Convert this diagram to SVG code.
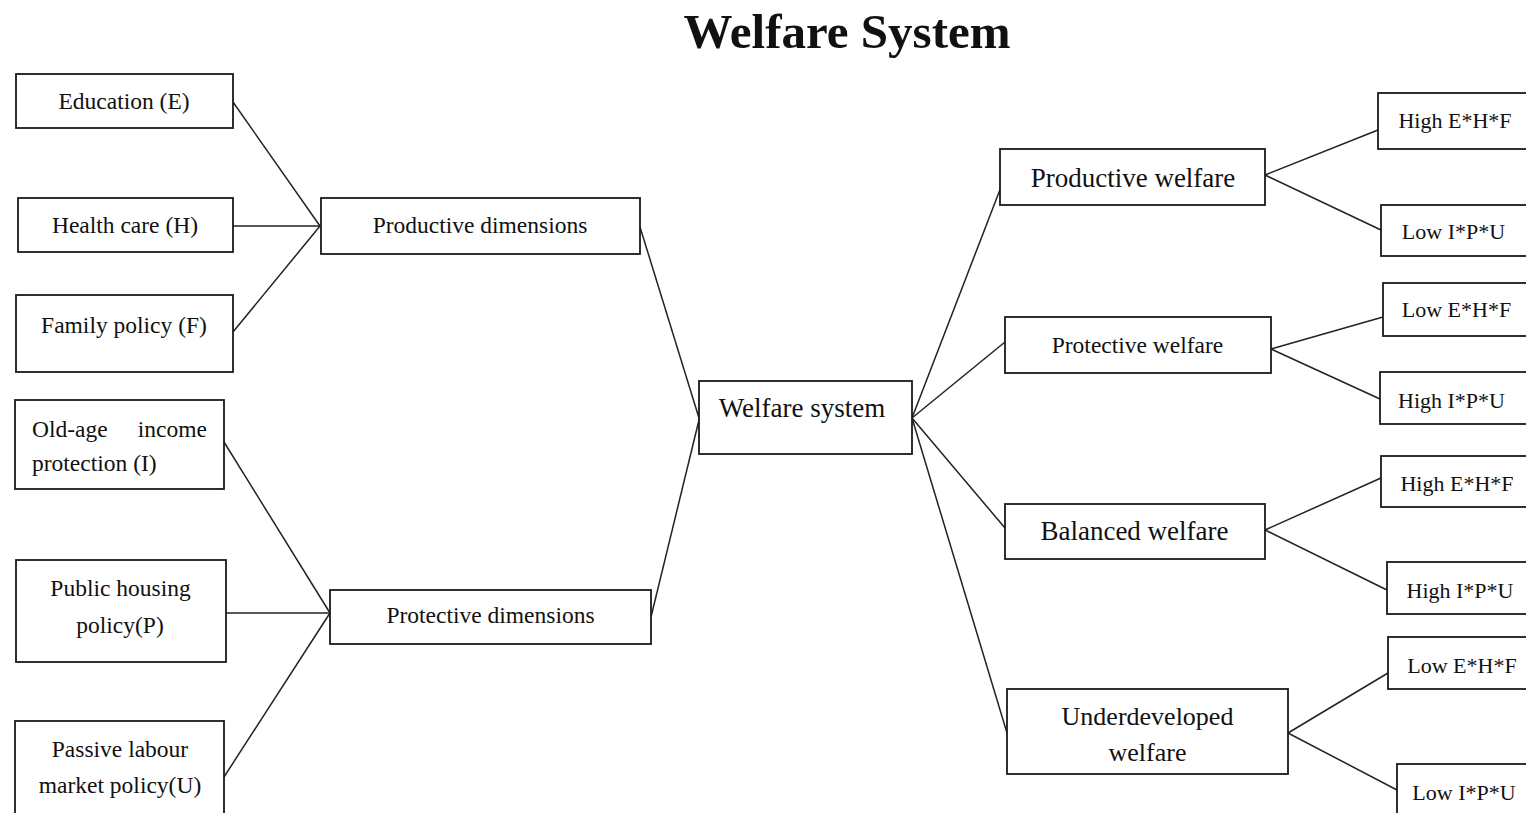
<svg xmlns="http://www.w3.org/2000/svg" width="1526" height="813" viewBox="0 0 1526 813">
<style>
.box{fill:#fff;stroke:#1a1a1a;stroke-width:1.8}
.ln{stroke:#222;stroke-width:1.5;fill:none}
text{font-family:"Liberation Serif","Times New Roman",serif;fill:#111;text-anchor:middle}
.s24{font-size:23.5px}
.s27{font-size:27px}
.s26{font-size:26px}
.s22{font-size:22px}
.title{font-size:49px;font-weight:bold}
</style>
<rect width="1526" height="813" fill="#fff"/>
<text class="title" x="847" y="48">Welfare System</text>
<g id="connectors">
<line class="ln" x1="233" y1="102" x2="320" y2="226"/>
<line class="ln" x1="233" y1="226" x2="320" y2="226"/>
<line class="ln" x1="233" y1="332" x2="320" y2="226"/>
<line class="ln" x1="224" y1="442" x2="330" y2="613"/>
<line class="ln" x1="226" y1="613" x2="330" y2="613"/>
<line class="ln" x1="224" y1="777" x2="330" y2="613"/>
<line class="ln" x1="640" y1="227" x2="699" y2="418"/>
<line class="ln" x1="651" y1="617" x2="699" y2="420"/>
<line class="ln" x1="912" y1="418" x2="1001" y2="187"/>
<line class="ln" x1="912" y1="418" x2="1005" y2="342"/>
<line class="ln" x1="912" y1="418" x2="1005" y2="528"/>
<line class="ln" x1="912" y1="418" x2="1007" y2="733"/>
<line class="ln" x1="1265" y1="175" x2="1378" y2="130"/>
<line class="ln" x1="1265" y1="175" x2="1381" y2="230"/>
<line class="ln" x1="1271" y1="349" x2="1383" y2="317"/>
<line class="ln" x1="1271" y1="349" x2="1380" y2="399"/>
<line class="ln" x1="1265" y1="530" x2="1381" y2="478"/>
<line class="ln" x1="1265" y1="530" x2="1387" y2="590"/>
<line class="ln" x1="1288" y1="733" x2="1388" y2="673"/>
<line class="ln" x1="1288" y1="733" x2="1397" y2="790"/>
</g>
<g id="education"><rect class="box" x="16" y="74" width="217" height="54"/><text class="s24" x="124" y="109">Education (E)</text></g>
<g id="health"><rect class="box" x="18" y="198" width="215" height="54"/><text class="s24" x="125" y="233">Health care (H)</text></g>
<g id="family"><rect class="box" x="16" y="295" width="217" height="77"/><text class="s24" x="124" y="333">Family policy (F)</text></g>
<g id="oldage"><rect class="box" x="15" y="400" width="209" height="89"/><text class="s24" x="32" y="437" style="text-anchor:start">Old-age</text><text class="s24" x="207" y="437" style="text-anchor:end">income</text><text class="s24" x="32" y="471" style="text-anchor:start">protection (I)</text></g>
<g id="housing"><rect class="box" x="16" y="560" width="210" height="102"/><text class="s24" x="120.5" y="596">Public housing</text><text class="s24" x="120" y="633">policy(P)</text></g>
<g id="labour"><rect class="box" x="15" y="721" width="209" height="100"/><text class="s24" x="120" y="757">Passive labour</text><text class="s24" x="120" y="793">market policy(U)</text></g>
<g id="productive-dimensions"><rect class="box" x="321" y="198" width="319" height="56"/><text class="s24" x="480" y="233">Productive dimensions</text></g>
<g id="protective-dimensions"><rect class="box" x="330" y="590" width="321" height="54"/><text class="s24" x="490.5" y="623">Protective dimensions</text></g>
<g id="welfare-system"><rect class="box" x="699" y="381" width="213" height="73"/><text class="s27" x="802" y="417">Welfare system</text></g>
<g id="productive-welfare"><rect class="box" x="1000" y="149" width="265" height="56"/><text class="s27" x="1133" y="187">Productive welfare</text></g>
<g id="protective-welfare"><rect class="box" x="1005" y="317" width="266" height="56"/><text class="s24" x="1137.5" y="353">Protective welfare</text></g>
<g id="balanced-welfare"><rect class="box" x="1005" y="504" width="260" height="55"/><text class="s27" x="1134.5" y="540">Balanced welfare</text></g>
<g id="underdeveloped-welfare"><rect class="box" x="1007" y="689" width="281" height="85"/><text class="s26" x="1147.5" y="725">Underdeveloped</text><text class="s26" x="1147.5" y="761">welfare</text></g>
<g id="pw-high-ehf"><rect class="box" x="1378" y="93" width="160" height="56"/><text class="s22" x="1455" y="128">High E*H*F</text></g>
<g id="pw-low-ipu"><rect class="box" x="1381" y="205" width="160" height="51"/><text class="s22" x="1453.5" y="239">Low I*P*U</text></g>
<g id="prw-low-ehf"><rect class="box" x="1383" y="283" width="160" height="53"/><text class="s22" x="1456.5" y="317">Low E*H*F</text></g>
<g id="prw-high-ipu"><rect class="box" x="1380" y="372" width="160" height="52"/><text class="s22" x="1451.5" y="408">High I*P*U</text></g>
<g id="bw-high-ehf"><rect class="box" x="1381" y="456" width="160" height="51"/><text class="s22" x="1457" y="491">High E*H*F</text></g>
<g id="bw-high-ipu"><rect class="box" x="1387" y="562" width="160" height="52"/><text class="s22" x="1460" y="598">High I*P*U</text></g>
<g id="uw-low-ehf"><rect class="box" x="1388" y="637" width="160" height="52"/><text class="s22" x="1462" y="673">Low E*H*F</text></g>
<g id="uw-low-ipu"><rect class="box" x="1397" y="764" width="160" height="60"/><text class="s22" x="1464" y="800">Low I*P*U</text></g>
</svg>
